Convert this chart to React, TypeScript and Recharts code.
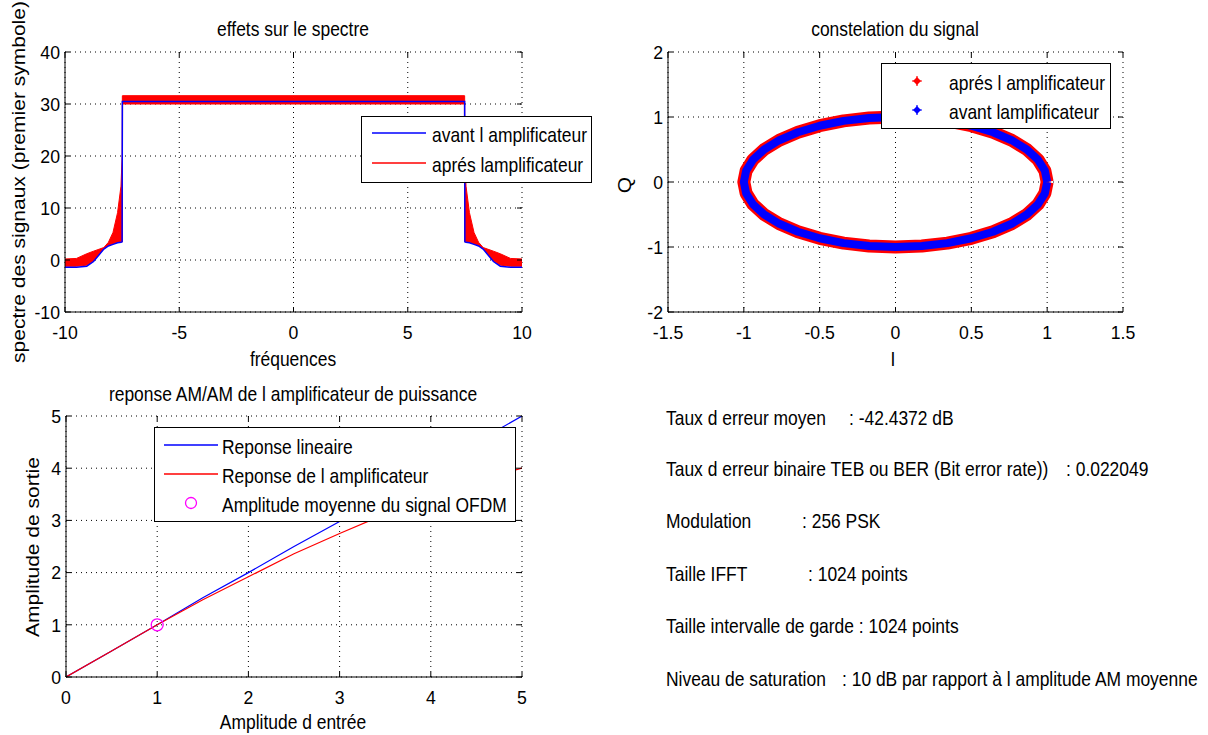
import React from "react";
import { ComposedChart, Line, Area, Scatter, XAxis, YAxis, CartesianGrid } from "recharts";

// --- spectre (premier symbole) ---
const specFreq = [-10, -9.5, -9.05, -8.75, -8.3, -8.1, -7.9, -7.7, -7.55, -7.5, -7.49, -7.48, 7.48, 7.49, 7.5, 7.55, 7.7, 7.9, 8.1, 8.3, 8.75, 9.05, 9.5, 10];
const specApresHaut = [0.2, 0.3, 1.2, 1.7, 2.4, 3.4, 5.3, 9.1, 14.2, 20, 31.6, 31.6, 31.6, 31.6, 20, 14.2, 9.1, 5.3, 3.4, 2.4, 1.7, 1.2, 0.3, 0.2];
const specApresBas = [-1.2, -1.2, -1.0, -0.2, 2.2, 2.8, 3.1, 3.4, 3.5, 3.5, 3.5, 30, 30, 3.5, 3.5, 3.5, 3.4, 3.1, 2.8, 2.2, -0.2, -1.0, -1.2, -1.2];
const specAvant = [-1.4, -1.4, -1.2, -0.3, 2.1, 2.7, 3.0, 3.3, 3.4, 3.5, 30.5, 30.5, 30.5, 30.5, 3.5, 3.4, 3.3, 3.0, 2.7, 2.1, -0.3, -1.2, -1.4, -1.4];
const specTicksX = [-10, -5, 0, 5, 10];
const specTicksY = [-10, 0, 10, 20, 30, 40];

const constI = [1, 0.985, 0.94, 0.866, 0.766, 0.643, 0.5, 0.342, 0.174, 0, -0.174, -0.342, -0.5, -0.643, -0.766, -0.866, -0.94, -0.985, -1, -0.985, -0.94, -0.866, -0.766, -0.643, -0.5, -0.342, -0.174, 0, 0.174, 0.342, 0.5, 0.643, 0.766, 0.866, 0.94, 0.985, 1];
const constQ = [0, 0.174, 0.342, 0.5, 0.643, 0.766, 0.866, 0.94, 0.985, 1, 0.985, 0.94, 0.866, 0.766, 0.643, 0.5, 0.342, 0.174, 0, -0.174, -0.342, -0.5, -0.643, -0.766, -0.866, -0.94, -0.985, -1, -0.985, -0.94, -0.866, -0.766, -0.643, -0.5, -0.342, -0.174, 0];
const constTicksX = [-1.5, -1, -0.5, 0, 0.5, 1, 1.5];
const constTicksY = [-2, -1, 0, 1, 2];

// --- reponse AM/AM ---
const amIn = [0, 0.5, 1, 1.5, 2, 2.5, 3, 3.5, 4, 4.5, 5];
const amLineaire = [0, 0.5, 1, 1.52, 2.0, 2.5, 2.98, 3.5, 4.0, 4.5, 5.0];
const amAmpli = [0, 0.5, 1, 1.48, 1.92, 2.36, 2.75, 3.12, 3.47, 3.76, 4.0];
const amMoyen = [{ x: 1, y: 1 }];
const amTicks = [0, 1, 2, 3, 4, 5];

const infoLabels = [
  "Taux d erreur moyen",
  "Taux d erreur binaire TEB ou BER (Bit error rate))",
  "Modulation",
  "Taille IFFT",
  "Taille intervalle de garde : 1024 points",
  "Niveau de saturation",
];
const infoValues = [": -42.4372 dB", ": 0.022049", ": 256 PSK", ": 1024 points", "", ": 10 dB par rapport à l amplitude AM moyenne"];

const specData = specFreq.map((f, i) => ({ f, avant: specAvant[i], apres: [specApresBas[i], specApresHaut[i]] }));
const ringData = constI.map((i, k) => ({ i, q: constQ[k] }));
const amData = amIn.map((x, k) => ({ x, lin: amLineaire[k], amp: amAmpli[k] }));

const FONT = '"Liberation Sans", Arial, Helvetica, sans-serif';
const FS = 21;       // titres, légendes, texte
const SX = 0.83;
const FS_TICK = 19;  // graduations
const SX_TICK = 0.93;
const BLUE = "#0000ff";
const RED = "#ff0000";
const MAGENTA = "#ff00ff";

const PAD_L = 60, PAD_T = 10, PAD_R = 30, PAD_B = 40;

type Box = { left: number; top: number; width: number; height: number };

function makeXTick(top: number) {
  return (props: any) => {
    const { x, y, payload } = props;
    return (
      <g>
        <line x1={x} y1={y} x2={x} y2={y - 5} stroke="#000" />
        <line x1={x} y1={top} x2={x} y2={top + 5} stroke="#000" />
        <g transform={`translate(${x},${y + 20})`}>
          <text transform={`scale(${SX_TICK},1)`} textAnchor="middle" dominantBaseline="central" fontSize={FS_TICK} fontFamily={FONT} fill="#000">
            {String(payload.value)}
          </text>
        </g>
      </g>
    );
  };
}

function makeYTick(right: number) {
  return (props: any) => {
    const { x, y, payload } = props;
    return (
      <g>
        <line x1={x} y1={y} x2={x + 5} y2={y} stroke="#000" />
        <line x1={right - 5} y1={y} x2={right} y2={y} stroke="#000" />
        <g transform={`translate(${x - 5},${y})`}>
          <text transform={`scale(${SX_TICK},1)`} textAnchor="end" dominantBaseline="central" fontSize={FS_TICK} fontFamily={FONT} fill="#000">
            {String(payload.value)}
          </text>
        </g>
      </g>
    );
  };
}

// cadre + grille + axes communs aux trois tracés
function Panel({ box, data, xKey, xDomain, yDomain, xTicks, yTicks, children }: any) {
  const w = box.width + PAD_L + PAD_R;
  const h = box.height + PAD_T + PAD_B;
  return (
    <div style={{ position: "absolute", left: box.left - PAD_L, top: box.top - PAD_T }}>
      <ComposedChart width={w} height={h} data={data} margin={{ top: PAD_T, right: PAD_R, bottom: 0, left: 0 }}>
        <CartesianGrid stroke="#000" strokeDasharray="1 4" />
        <XAxis dataKey={xKey} type="number" domain={xDomain} ticks={xTicks} interval={0} height={PAD_B}
          tickLine={false} tickSize={0} tickMargin={0} axisLine={{ stroke: "#000" }}
          tick={makeXTick(PAD_T)} allowDataOverflow />
        <YAxis type="number" domain={yDomain} ticks={yTicks} interval={0} width={PAD_L}
          tickLine={false} tickSize={0} tickMargin={0} axisLine={{ stroke: "#000" }}
          tick={makeYTick(PAD_L + box.width)} allowDataOverflow />
        <XAxis xAxisId="top" orientation="top" type="number" domain={xDomain} height={0} tick={false} tickLine={false} axisLine={{ stroke: "#000" }} />
        <YAxis yAxisId="right" orientation="right" type="number" domain={yDomain} width={0} tick={false} tickLine={false} axisLine={{ stroke: "#000" }} />
        {children}
      </ComposedChart>
    </div>
  );
}

const txt = (extra: React.CSSProperties): React.CSSProperties => ({
  position: "absolute",
  whiteSpace: "nowrap",
  fontFamily: FONT,
  fontSize: FS,
  lineHeight: 1,
  color: "#000",
  ...extra,
});

function Centered({ x, y, children }: any) {
  return <div style={txt({ left: x, top: y, transform: `translate(-50%,-50%) scaleX(${SX})` })}>{children}</div>;
}

function Vertical({ x, y, children }: any) {
  return <div style={txt({ left: x, top: y, transform: `translate(-50%,-50%) rotate(-90deg) scaleY(${SX})` })}>{children}</div>;
}

function LeftText({ x, y, children }: any) {
  return <div style={txt({ left: x, top: y, transform: `translateY(-50%) scaleX(${SX})`, transformOrigin: "0 50%" })}>{children}</div>;
}

const LineIcon = ({ color }: { color: string }) => (
  <svg width={54} height={4} style={{ display: "block" }}><line x1={0} y1={2} x2={54} y2={2} stroke={color} strokeWidth={1.5} /></svg>
);
const PlusIcon = ({ color }: { color: string }) => (
  <svg width={10} height={10} style={{ display: "block" }}>
    <path d="M5 1 L9 5 L5 9 L1 5 Z" fill={color} />
    <path d="M5 0 V10 M0 5 H10" stroke={color} strokeWidth={1.2} />
  </svg>
);
const CircleIcon = () => (
  <svg width={14} height={14} style={{ display: "block" }}><circle cx={7} cy={7} r={5.5} fill="none" stroke={MAGENTA} strokeWidth={1.3} /></svg>
);

function LegendBox({ left, top, width, height }: any) {
  return <div style={{ position: "absolute", left, top, width, height, background: "#fff", border: "1px solid #000", boxSizing: "border-box" }} />;
}

function Icon({ x, y, children }: any) {
  return <div style={{ position: "absolute", left: x, top: y, transform: "translate(-50%,-50%)" }}>{children}</div>;
}

const specBox: Box = { left: 65, top: 52, width: 457, height: 260 };
const constBox: Box = { left: 668, top: 52, width: 455, height: 260 };
const amBox: Box = { left: 66, top: 416, width: 456, height: 261 };

const infoY = [417, 468, 520, 573, 625, 678];
const infoColonX = [849, 1066, 802, 808, 0, 842];

export default function App() {
  return (
    <div style={{ position: "absolute", left: 0, top: 0, width: 1208, height: 735, background: "#fff", overflow: "hidden" }}>
      <Panel box={specBox} data={specData} xKey="f" xDomain={[-10, 10]} yDomain={[-10, 40]} xTicks={specTicksX} yTicks={specTicksY}>
        <Line dataKey="avant" type="linear" stroke={BLUE} strokeWidth={1.5} dot={false} isAnimationActive={false} />
        <Area dataKey="apres" type="linear" stroke={RED} strokeWidth={1} fill={RED} fillOpacity={1} dot={false} isAnimationActive={false} />
      </Panel>

      <Panel box={constBox} data={ringData} xKey="i" xDomain={[-1.5, 1.5]} yDomain={[-2, 2]} xTicks={constTicksX} yTicks={constTicksY}>
        <Line dataKey="q" type="linear" stroke={RED} strokeWidth={13} dot={false} isAnimationActive={false} strokeLinejoin="round" />
        <Line dataKey="q" type="linear" stroke={BLUE} strokeWidth={8} dot={false} isAnimationActive={false} strokeLinejoin="round" />
      </Panel>

      <Panel box={amBox} data={amData} xKey="x" xDomain={[0, 5]} yDomain={[0, 5]} xTicks={amTicks} yTicks={amTicks}>
        <Line dataKey="lin" type="linear" stroke={BLUE} strokeWidth={1.2} dot={false} isAnimationActive={false} />
        <Line dataKey="amp" type="linear" stroke={RED} strokeWidth={1.2} dot={false} isAnimationActive={false} />
        <Scatter data={amMoyen} dataKey="y" fill="none" isAnimationActive={false}
          shape={(p: any) => <circle cx={p.cx} cy={p.cy} r={6} fill="none" stroke={MAGENTA} strokeWidth={1.3} />} />
      </Panel>

      {/* titres et libellés d'axes */}
      <Centered x={293} y={28}>effets sur le spectre</Centered>
      <Centered x={293} y={358}>fréquences</Centered>
      <Vertical x={19} y={182}>spectre des signaux (premier symbole)</Vertical>

      <Centered x={895} y={28}>constelation du signal</Centered>
      <Centered x={893} y={358}>I</Centered>
      <Vertical x={625} y={185}>Q</Vertical>

      <Centered x={293} y={393}>reponse AM/AM de l amplificateur de puissance</Centered>
      <Centered x={293} y={721}>Amplitude d entrée</Centered>
      <Vertical x={33} y={547}>Amplitude de sortie</Vertical>

      {/* légendes */}
      <LegendBox left={361} top={116} width={231} height={67} />
      <Icon x={399} y={133}><LineIcon color={BLUE} /></Icon>
      <LeftText x={432} y={134}>avant l amplificateur</LeftText>
      <Icon x={399} y={163}><LineIcon color={RED} /></Icon>
      <LeftText x={432} y={164}>aprés lamplificateur</LeftText>

      <LegendBox left={881} top={63} width={230} height={66} />
      <Icon x={917} y={81}><PlusIcon color={RED} /></Icon>
      <LeftText x={949} y={82}>aprés l amplificateur</LeftText>
      <Icon x={917} y={110}><PlusIcon color={BLUE} /></Icon>
      <LeftText x={949} y={111}>avant lamplificateur</LeftText>

      <LegendBox left={154} top={427} width={362} height={95} />
      <Icon x={191} y={445}><LineIcon color={BLUE} /></Icon>
      <LeftText x={222} y={446}>Reponse lineaire</LeftText>
      <Icon x={191} y={474}><LineIcon color={RED} /></Icon>
      <LeftText x={222} y={475}>Reponse de l amplificateur</LeftText>
      <Icon x={191} y={503}><CircleIcon /></Icon>
      <LeftText x={222} y={504}>Amplitude moyenne du signal OFDM</LeftText>

      {/* paramètres de simulation */}
      {infoLabels.map((label, k) => (
        <React.Fragment key={k}>
          <LeftText x={666} y={infoY[k]}>{label}</LeftText>
          {infoValues[k] && <LeftText x={infoColonX[k]} y={infoY[k]}>{infoValues[k]}</LeftText>}
        </React.Fragment>
      ))}
    </div>
  );
}
